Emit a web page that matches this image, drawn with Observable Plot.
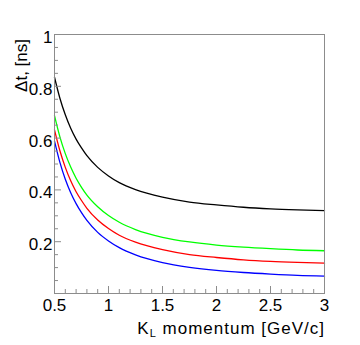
<!DOCTYPE html>
<html><head><meta charset="utf-8">
<script src="https://cdn.jsdelivr.net/npm/d3@7"></script>
<script src="https://cdn.jsdelivr.net/npm/@observablehq/plot@0.6"></script>
<style>html,body{margin:0;padding:0;background:#fff}</style>
</head><body><div id="chart"></div>
<script>
// K_L momentum [GeV/c]
const momentum = [0.5, 0.55, 0.6, 0.65, 0.7, 0.75, 0.8, 0.9, 1.0, 1.1, 1.25, 1.5, 1.75, 2.0, 2.25, 2.5, 2.75, 3.0];
// Δt [ns] for each curve
const dtBlack = [0.835, 0.754, 0.690, 0.638, 0.596, 0.562, 0.532, 0.487, 0.454, 0.428, 0.401, 0.372, 0.353, 0.342, 0.333, 0.327, 0.323, 0.320];
const dtGreen = [0.687, 0.605, 0.540, 0.488, 0.445, 0.410, 0.380, 0.335, 0.301, 0.275, 0.247, 0.217, 0.199, 0.187, 0.179, 0.173, 0.168, 0.165];
const dtRed   = [0.632, 0.551, 0.487, 0.435, 0.393, 0.359, 0.329, 0.284, 0.251, 0.225, 0.198, 0.169, 0.150, 0.139, 0.130, 0.124, 0.120, 0.117];
const dtBlue  = [0.588, 0.506, 0.441, 0.389, 0.347, 0.312, 0.282, 0.236, 0.203, 0.177, 0.149, 0.119, 0.101, 0.089, 0.081, 0.075, 0.070, 0.067];
const seriesNames = ["curve 1", "curve 2", "curve 3", "curve 4"];
const seriesColors = ["#000000", "#00ff00", "#ff0000", "#0000ff"];
const seriesValues = [dtBlack, dtGreen, dtRed, dtBlue];

const xMajorTicks = [0.5, 1, 1.5, 2, 2.5, 3];
const xTickLabels = ["0.5", "1", "1.5", "2", "2.5", "3"];
const xMinorTicks = [0.6, 0.7, 0.8, 0.9, 1.1, 1.2, 1.3, 1.4, 1.6, 1.7, 1.8, 1.9, 2.1, 2.2, 2.3, 2.4, 2.6, 2.7, 2.8, 2.9];
const yMajorTicks = [0.2, 0.4, 0.6, 0.8, 1];
const yTickLabels = ["0.2", "0.4", "0.6", "0.8", "1"];
const yMinorTicks = [0.05, 0.1, 0.15, 0.25, 0.3, 0.35, 0.45, 0.5, 0.55, 0.65, 0.7, 0.75, 0.85, 0.9, 0.95];

const rows = [];
seriesNames.forEach((s, k) => momentum.forEach((p, i) => rows.push({p, dt: seriesValues[k][i], s})));

const font = "'Liberation Sans', Arial, Helvetica, sans-serif";
const axisGray = "#8c8c8c";
const xLabelMap = new Map(xMajorTicks.map((t, i) => [t, xTickLabels[i]]));
const yLabelMap = new Map(yMajorTicks.map((t, i) => [t, yTickLabels[i]]));

const chart = Plot.plot({
  width: 360, height: 345,
  marginLeft: 54, marginRight: 36, marginTop: 34, marginBottom: 52,
  style: {fontFamily: font, fontSize: "17px", background: "#fff", color: "#000"},
  x: {domain: [0.5, 3], label: null},
  y: {domain: [0, 1], label: null},
  color: {domain: seriesNames, range: seriesColors},
  marks: [
    Plot.line(rows, {x: "p", y: "dt", stroke: "s", z: "s", strokeWidth: 1.3, curve: "monotone-x"}),
    Plot.frame({stroke: axisGray, strokeWidth: 1}),
    Plot.axisX({ticks: xMinorTicks, tickSize: -4, tickFormat: () => "", stroke: axisGray, label: null}),
    Plot.axisX({ticks: xMajorTicks, tickSize: -7, tickFormat: () => "", stroke: axisGray, label: null}),
    Plot.axisX({ticks: xMajorTicks, tickSize: 0, tickPadding: 5, tickFormat: d => xLabelMap.get(d), fill: "#000", label: null}),
    Plot.axisY({ticks: yMinorTicks, tickSize: -4, tickFormat: () => "", stroke: axisGray, label: null}),
    Plot.axisY({ticks: yMajorTicks, tickSize: -7, tickFormat: () => "", stroke: axisGray, label: null}),
    Plot.axisY({ticks: yMajorTicks, tickSize: 0, tickPadding: 2, dy: 3, tickFormat: d => yLabelMap.get(d), fill: "#000", label: null})
  ]
});
document.getElementById("chart").appendChild(chart);

const svg = d3.select(chart);
svg.append("text")
  .attr("transform", "translate(27,39) rotate(-90)")
  .attr("text-anchor", "end")
  .attr("font-family", font).attr("font-size", 17).attr("fill", "#000")
  .text("Δt, [ns]");
const xl = svg.append("text")
  .attr("x", 325).attr("y", 334)
  .attr("text-anchor", "end")
  .attr("letter-spacing", "1px")
  .attr("font-family", font).attr("font-size", 17).attr("fill", "#000");
xl.append("tspan").text("K");
xl.append("tspan").attr("font-size", 11).attr("dy", 3).text("L");
xl.append("tspan").attr("dy", -3).text(" momentum [GeV/c]");
</script>
</body></html>
